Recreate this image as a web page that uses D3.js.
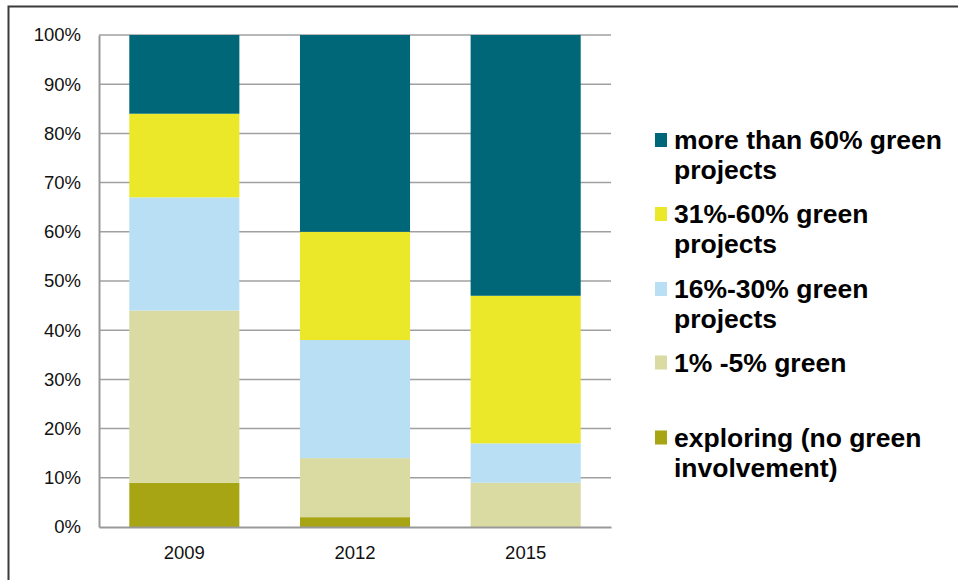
<!DOCTYPE html>
<html>
<head>
<meta charset="utf-8">
<script src="https://cdn.jsdelivr.net/npm/d3@7"></script>
<style>
  body { margin: 0; background: #fff; }
  svg text { font-family: Arial, "Liberation Sans", sans-serif; }
</style>
</head>
<body>
<div id="chart"></div>
<script>
// data (percent of respondents per year)
const years = ["2009", "2012", "2015"]
const exploring = [9, 2, 0]
const green1to5 = [35, 12, 9]
const green16to30 = [23, 24, 8]
const green31to60 = [17, 22, 30]
const greenOver60 = [16, 40, 53]
const seriesNames = [
  "exploring (no green involvement)",
  "1% -5% green",
  "16%-30% green projects",
  "31%-60% green projects",
  "more than 60% green projects"
]
const seriesValues = [exploring, green1to5, green16to30, green31to60, greenOver60]
const colors = ["#a8a514", "#dadba2", "#b9dff5", "#ebe82a", "#006778"]
const yTicks = [0, 10, 20, 30, 40, 50, 60, 70, 80, 90, 100]

// legend lines, top to bottom (wrapped as in the original)
const legendLines = [
  ["more than 60% green", "projects"],
  ["31%-60% green", "projects"],
  ["16%-30% green", "projects"],
  ["1% -5% green"],
  ["exploring (no green", "involvement)"]
]
const legendColors = ["#006778", "#ebe82a", "#b9dff5", "#dadba2", "#a8a514"]
const legendY = [140, 214, 289, 362.5, 437.5]

let width = 958
let height = 580
let plotLeft = 99, plotRight = 611, plotTop = 35, plotBottom = 527

let svg = d3.select("#chart").append("svg")
  .attr("width", width)
  .attr("height", height)

// outer frame (top and left edges visible)
svg.append("path")
  .attr("d", "M8.5,580 L8.5,6.5 L958,6.5")
  .attr("fill", "none")
  .attr("stroke", "#3a3a3a")
  .attr("stroke-width", 2)

let x = d3.scaleBand().domain(years).range([plotLeft, plotRight]).paddingInner(0.355).paddingOuter(0.1775)
let y = d3.scaleLinear().domain([0, 100]).range([plotBottom, plotTop])

// gridlines
svg.append("g")
  .selectAll("line")
  .data(yTicks.slice(1))
  .enter().append("line")
  .attr("x1", plotLeft).attr("x2", plotRight)
  .attr("y1", d => y(d)).attr("y2", d => y(d))
  .attr("stroke", "#a0a0a0")
  .attr("stroke-width", 1.5)

// stacked bars
let table = years.map((yr, i) => {
  let row = {year: yr}
  seriesNames.forEach((s, j) => row[s] = seriesValues[j][i])
  return row
})
let stacked = d3.stack().keys(seriesNames)(table)

svg.append("g")
  .selectAll("g")
  .data(stacked)
  .enter().append("g")
  .attr("fill", (d, i) => colors[i])
  .selectAll("rect")
  .data(d => d)
  .enter().append("rect")
  .attr("x", d => x(d.data.year))
  .attr("width", x.bandwidth())
  .attr("y", d => y(d[1]))
  .attr("height", d => y(d[0]) - y(d[1]))

// y axis
let yAxis = svg.append("g")
  .attr("transform", "translate(" + plotLeft + ",0)")
  .call(d3.axisLeft(y).tickValues(yTicks).tickFormat(d => d + "%").tickSize(0).tickPadding(18))
yAxis.select(".domain").attr("stroke", "#999").attr("stroke-width", 2)
yAxis.selectAll("text").attr("font-size", 18.5).attr("fill", "#111")

// x axis
let xAxis = svg.append("g")
  .attr("transform", "translate(0," + plotBottom + ")")
  .call(d3.axisBottom(x).tickSize(0).tickPadding(19))
xAxis.select(".domain").attr("stroke", "#999").attr("stroke-width", 2)
xAxis.selectAll("text").attr("font-size", 18.5).attr("fill", "#111")

// legend
let legend = svg.append("g")
legendLines.forEach((lines, i) => {
  legend.append("rect")
    .attr("x", 655).attr("y", legendY[i] - 7)
    .attr("width", 12).attr("height", 14)
    .attr("fill", legendColors[i])
  let t = legend.append("text")
    .attr("x", 674).attr("y", legendY[i])
    .attr("font-size", 26.5)
    .attr("font-weight", "bold")
    .attr("fill", "#000")
  lines.forEach((ln, k) => {
    t.append("tspan").attr("x", 674).attr("dy", k === 0 ? "0.34em" : 30).text(ln)
  })
})
</script>
</body>
</html>
